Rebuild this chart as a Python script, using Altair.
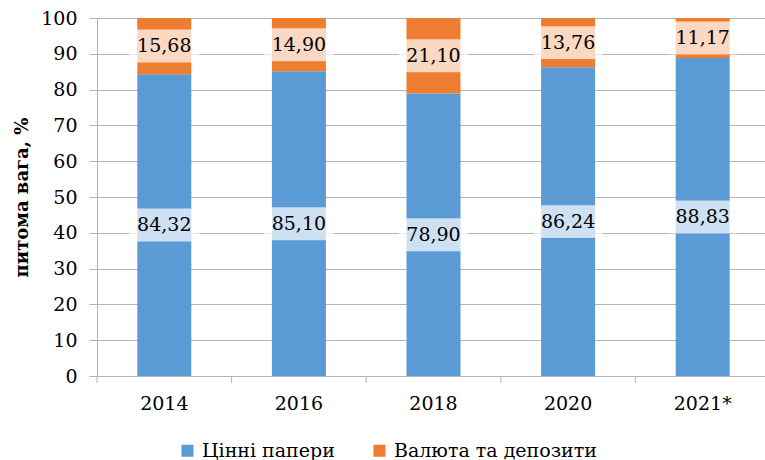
import altair as alt
import pandas as pd

years = ["2014", "2016", "2018", "2020", "2021*"]
securities = [84.32, 85.10, 78.90, 86.24, 88.83]
currency = [15.68, 14.90, 21.10, 13.76, 11.17]
series_names = ["Цінні папери", "Валюта та депозити"]
colors = ["#5B9BD5", "#ED7D31"]
y_ticks = list(range(0, 101, 10))

rows = []
for i, yr in enumerate(years):
    s, c = securities[i], currency[i]
    rows.append(dict(year=yr, series=series_names[0], order=0, value=s, start=0.0, end=s))
    rows.append(dict(year=yr, series=series_names[1], order=1, value=c, start=s, end=s + c))
df = pd.DataFrame(rows)
df["mid"] = (df["start"] + df["end"]) / 2
df["label"] = df["value"].map(lambda v: f"{v:.2f}".replace(".", ","))

FONT = "DejaVu Serif"
GRID = "#B4B4B4"

xscale = alt.Scale(domain=years, range=[0, 673], paddingInner=0, paddingOuter=0)
yscale = alt.Scale(domain=[0, 100], nice=False)

x_axis = alt.Axis(title=None, ticks=False, labelAngle=0, labelFontSize=19,
                  labelFont=FONT, labelColor="black", labelPadding=18,
                  domainColor=GRID, domainWidth=1, grid=False)
y_axis = alt.Axis(values=y_ticks, title="питома вага, %", titleFont=FONT,
                  titleFontSize=18, titleFontWeight="bold", titleColor="black",
                  titleAngle=270, titleX=-75, titleY=179, titleAlign="center",
                  titleBaseline="middle", labelOverlap=False,
                  tickSize=8, tickColor=GRID, domainColor=GRID, gridColor=GRID,
                  labelFontSize=19, labelFont=FONT, labelColor="black",
                  labelPadding=12)

bars = alt.Chart(df).mark_bar(size=54).encode(
    x=alt.X("year:N", sort=years, scale=xscale, axis=x_axis),
    y=alt.Y("start:Q", scale=yscale, axis=y_axis),
    y2="end:Q",
    color=alt.Color("series:N", scale=alt.Scale(domain=series_names, range=colors),
                    legend=alt.Legend(title=None, orient="none", legendX=81, legendY=423,
                                      direction="horizontal", symbolType="square",
                                      symbolSize=144, symbolStrokeWidth=0,
                                      labelFontSize=19, labelFont=FONT, labelColor="black",
                                      labelLimit=0, columnPadding=35, labelOffset=5)),
    order=alt.Order("order:Q"),
)

box_shape = "M-1,-0.471L1,-0.471L1,0.471L-1,0.471Z"
boxes = alt.Chart(df).mark_point(shape=box_shape, size=70 * 70, filled=True,
                                 color="white", opacity=0.7, strokeWidth=0).encode(
    x=alt.X("year:N", sort=years, scale=xscale, axis=x_axis),
    y=alt.Y("mid:Q", scale=yscale, axis=y_axis),
)

texts = alt.Chart(df).mark_text(font=FONT, fontSize=19, color="black",
                                baseline="middle", align="center").encode(
    x=alt.X("year:N", sort=years, scale=xscale, axis=x_axis),
    y=alt.Y("mid:Q", scale=yscale, axis=y_axis),
    text="label:N",
)

ticks = alt.Chart(df[df["order"] == 0]).mark_rule(color=GRID, strokeWidth=1).encode(
    x=alt.X("year:N", sort=years, scale=xscale, bandPosition=0, axis=x_axis),
    y=alt.value(358),
    y2=alt.value(365),
)

chart = alt.layer(bars, boxes, texts, ticks).properties(
    width=668, height=358,
    autosize=alt.AutoSizeParams(type="none"),
    padding={"left": 97, "top": 18, "right": 0, "bottom": 84},
).configure_view(stroke=None).configure(font=FONT)

chart.save("out.html", embed_options={"renderer": "svg", "actions": False})
